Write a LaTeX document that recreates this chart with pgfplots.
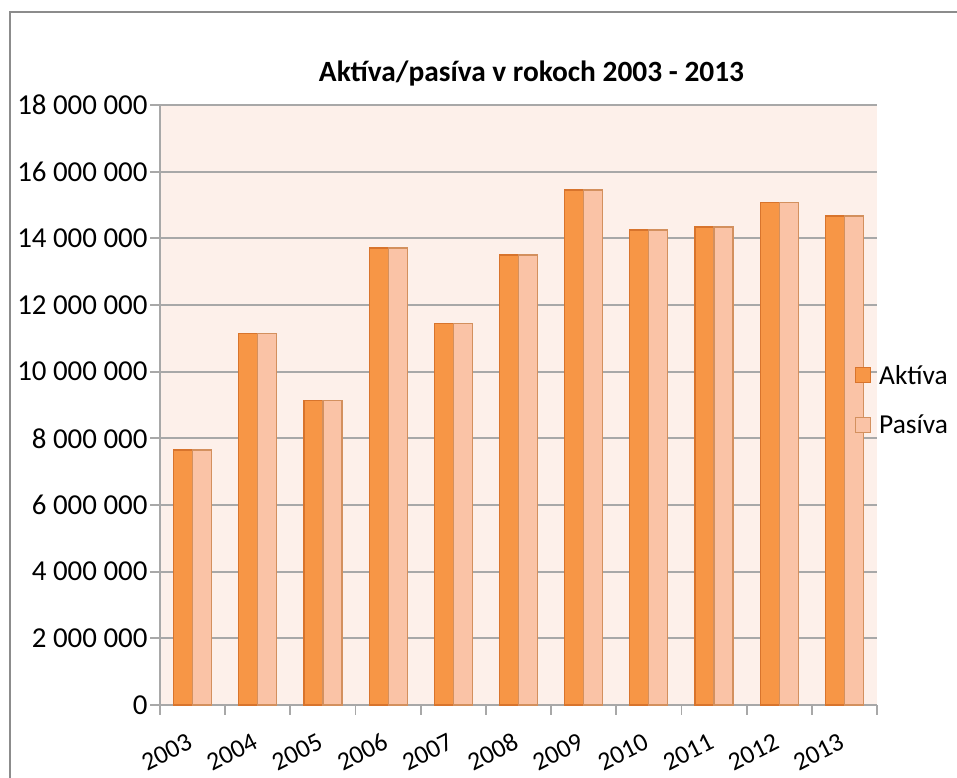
\documentclass[border=0pt]{standalone}
\usepackage{pgfplots}
\pgfplotsset{compat=1.18}
\usepackage{fontspec}
\setmainfont{Carlito}
\definecolor{aktiva}{HTML}{F79646}
\definecolor{aktivaedge}{HTML}{D8742C}
\definecolor{pasiva}{HTML}{FAC3A6}
\definecolor{pasivaedge}{HTML}{D3905E}
\definecolor{plotbg}{HTML}{FDF0EA}
\definecolor{gridc}{HTML}{A8A8A8}
\definecolor{framec}{HTML}{8C8C8C}
\begin{document}
\begin{tikzpicture}
\useasboundingbox (0bp,0bp) rectangle (957bp,778bp);
\fill[white] (0bp,0bp) rectangle (957bp,778bp);
\draw[framec, line width=2.5bp] (10bp,-5bp) -- (10bp,766bp) -- (962bp,766bp);
\node[font=\fontsize{29.5}{34}\selectfont\bfseries, anchor=base] at (531.5bp,696bp) {Aktíva/pasíva v rokoch 2003 - 2013};
\begin{axis}[at={(160bp,73bp)}, anchor=south west,
  width=717bp, height=600bp, scale only axis,
  ybar=0pt, bar width=19bp,
  ymin=0, ymax=18000000, xmin=-0.5, xmax=10.5,
  axis background/.style={fill=plotbg},
  axis lines*=left,
  axis line style={gridc, line width=1.8bp},
  ymajorgrids, major grid style={gridc, line width=1.8bp},
  tick align=outside, major tick length=10bp, minor tick length=10bp,
  ytick={0,2000000,4000000,6000000,8000000,10000000,12000000,14000000,16000000,18000000},
  yticklabels={0,2 000 000,4 000 000,6 000 000,8 000 000,10 000 000,12 000 000,14 000 000,16 000 000,18 000 000},
  yticklabel style={font=\fontsize{29}{33}\selectfont, xshift=1bp},
  ytick style={gridc, line width=1.8bp},
  xtick={0,1,2,3,4,5,6,7,8,9,10},
  xticklabels={2003,2004,2005,2006,2007,2008,2009,2010,2011,2012,2013},
  xticklabel style={font=\fontsize{26}{30}\selectfont, rotate=27, anchor=east, yshift=-21bp, xshift=-10bp},
  major x tick style={draw=none},
  minor xtick={-0.5,0.5,1.5,2.5,3.5,4.5,5.5,6.5,7.5,8.5,9.5,10.5},
  minor x tick style={gridc, line width=1.8bp},
  scaled y ticks=false,
  clip=false,
  legend image code/.code={\draw[#1, line width=1.2bp] (0bp,-7.5bp) rectangle (15bp,7.5bp); \path (23bp,0bp);},
  legend style={at={(0.969,0.509)}, anchor=west, draw=none, fill=none,
    font=\fontsize{27.5}{32}\selectfont, inner sep=0pt, row sep=31bp,
    nodes={inner sep=0pt, text depth=0pt}},
  legend cell align=left,
]
\addplot[fill=aktiva, draw=aktivaedge, line width=1.2bp] coordinates {
(0,7650000) (1,11150000) (2,9140000) (3,13710000) (4,11450000) (5,13500000)
(6,15450000) (7,14250000) (8,14340000) (9,15070000) (10,14670000)};
\addplot[fill=pasiva, draw=pasivaedge, line width=1.2bp] coordinates {
(0,7650000) (1,11150000) (2,9140000) (3,13710000) (4,11450000) (5,13500000)
(6,15450000) (7,14250000) (8,14340000) (9,15070000) (10,14670000)};
\legend{Aktíva,Pasíva}
\end{axis}
\end{tikzpicture}
\end{document}
